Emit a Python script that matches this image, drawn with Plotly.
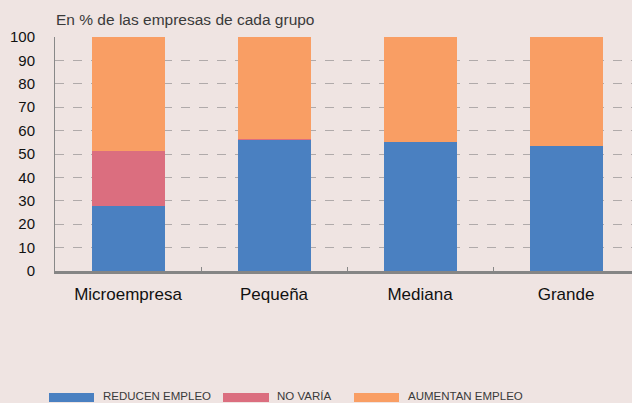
import plotly.graph_objects as go

categories = ["Microempresa", "Pequeña", "Mediana", "Grande"]
reducen = [27.6, 56.4, 55.0, 53.5]
no_varia = [23.7, 0.2, 0.0, 0.0]
aumentan = [48.7, 43.4, 45.0, 46.5]
series_names = ["REDUCEN EMPLEO", "NO VARÍA", "AUMENTAN EMPLEO"]
colors = ["#4A80C1", "#DB6E7F", "#F99E64"]
y_ticks = list(range(0, 101, 10))

W, H = 632, 403
L, R, T, B = 55, 0, 37, 132
pw, ph = W - L - R, H - T - B

def px(x):
    return (x - L) / pw

def py(y):
    return (H - B - y) / ph

fig = go.Figure()
for name, vals, c in zip(series_names, [reducen, no_varia, aumentan], colors):
    fig.add_trace(go.Bar(x=categories, y=vals, name=name, marker=dict(color=c, line=dict(width=0)),
                         showlegend=False))

bg = "#EFE4E2"
fig.update_layout(
    width=W, height=H, barmode="stack", bargap=0.5,
    paper_bgcolor=bg, plot_bgcolor=bg,
    margin=dict(l=L, r=R, t=T, b=B),
    font=dict(family="Liberation Sans, Arial, sans-serif", color="#111111"),
    xaxis=dict(range=[-0.5, -0.5 + pw / 146], tickson="boundaries", ticks="inside", ticklen=4,
               tickcolor="#888888", showline=True, linecolor="#858585", linewidth=3,
               tickfont=dict(size=17, color="#111111"), showgrid=False, fixedrange=True,
               ticklabelstandoff=6),
    yaxis=dict(range=[0, 100], tickvals=y_ticks, showgrid=True, gridcolor="#B0AAAA",
               griddash="dash", gridwidth=1, showline=True, linecolor="#888888", linewidth=1,
               ticks="", tickfont=dict(size=15, color="#111111"), ticklabelstandoff=16,
               zeroline=False),
)

fig.add_annotation(text="En % de las empresas de cada grupo", xref="paper", yref="paper",
                   x=px(54), y=py(19), xanchor="left", yanchor="middle", showarrow=False,
                   font=dict(size=15.5, color="#3A3A3A"))

legend_items = [(49, 94, 101), (223, 269, 275), (354, 399, 406)]
for (x0, x1, tx), name, c in zip(legend_items, series_names, colors):
    fig.add_shape(type="rect", xref="paper", yref="paper", x0=px(x0), x1=px(x1),
                  y0=py(402), y1=py(393), fillcolor=c, line=dict(width=0))
    fig.add_annotation(text=name, xref="paper", yref="paper", x=px(tx), y=py(395.5),
                       xanchor="left", yanchor="middle", showarrow=False,
                       font=dict(size=11.5, color="#3A3A3A"))

fig.write_html("out.html", config={"displayModeBar": False},
               post_script="document.body.style.margin='0';document.body.style.overflow='hidden';")
